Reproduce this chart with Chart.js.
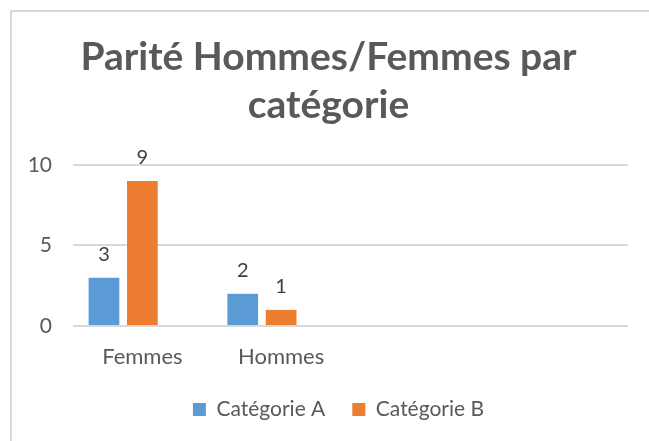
<!DOCTYPE html>
<html>
<head>
<meta charset="utf-8">
<script src="https://cdn.jsdelivr.net/npm/chart.js@4.4.1/dist/chart.umd.min.js"></script>
<style>
  html, body { margin: 0; padding: 0; background: #ffffff; }
  #wrap { position: relative; width: 649px; height: 441px; overflow: hidden; }
  #frame { position: absolute; left: 10px; top: 10px; width: 700px; height: 500px; border-left: 2px solid #d9d9d9; border-top: 2px solid #d9d9d9; box-sizing: border-box; }
  canvas { position: absolute; left: 0; top: 0; }
</style>
</head>
<body>
<div id="wrap">
  <div id="frame"></div>
  <canvas id="c" width="649" height="441"></canvas>
</div>
<script>
const titleLines = ['Parité Hommes/Femmes par', 'catégorie'];
const categories = ['Femmes', 'Hommes', '', ''];
const seriesNames = ['Catégorie A', 'Catégorie B', ''];
const categorieA = [3, 2, null, null];
const categorieB = [9, 1, null, null];
const categorieC = [null, null, null, null];
const yTicks = [0, 5, 10];

const FONT = 'Lato, "Open Sans", sans-serif';
const GREY = '#595959';

const valueLabels = {
  id: 'valueLabels',
  beforeDraw(chart) {
    const lg = chart.legend;
    if (lg && !lg._shifted) { lg.left += 10; lg.right += 10; lg._shifted = true; }
  },
  afterDatasetsDraw(chart) {
    const ctx = chart.ctx;
    ctx.save();
    ctx.font = '20px ' + FONT;
    ctx.fillStyle = '#404040';
    ctx.textAlign = 'center';
    ctx.textBaseline = 'middle';
    chart.data.datasets.forEach((ds, i) => {
      const meta = chart.getDatasetMeta(i);
      meta.data.forEach((bar, j) => {
        const v = ds.data[j];
        if (v === null || v === undefined) return;
        ctx.fillText(String(v), bar.x, bar.y - 23);
      });
    });
    ctx.restore();
  }
};

new Chart(document.getElementById('c'), {
  type: 'bar',
  data: {
    labels: categories,
    datasets: [
      { label: seriesNames[0], data: categorieA, backgroundColor: '#5b9bd5', categoryPercentage: 0.83, barPercentage: 0.8 },
      { label: seriesNames[1], data: categorieB, backgroundColor: '#ed7d31', categoryPercentage: 0.83, barPercentage: 0.8 },
      { label: seriesNames[2], data: categorieC, backgroundColor: '#a5a5a5', categoryPercentage: 0.83, barPercentage: 0.8 }
    ]
  },
  options: {
    responsive: false,
    animation: false,
    layout: { padding: { top: 33, left: 29, right: 21, bottom: 11 } },
    plugins: {
      title: {
        display: true,
        text: titleLines,
        color: GREY,
        font: { family: FONT, size: 39, weight: 'bold', lineHeight: 1.23 },
        padding: { top: 0, bottom: 36 }
      },
      legend: {
        position: 'bottom',
        labels: {
          filter: (item) => item.text !== '',
          color: GREY,
          font: { family: FONT, size: 21 },
          boxWidth: 13,
          boxHeight: 13,
          padding: 27
        }
      },
      tooltip: { enabled: false }
    },
    scales: {
      x: {
        grid: { display: false },
        border: { display: false },
        ticks: { color: GREY, font: { family: FONT, size: 22 }, padding: 10 },
        afterFit: (s) => { s.paddingLeft = 0; s.paddingRight = 0; s.height = s.height - 8.4; }
      },
      y: {
        min: 0,
        max: 10,
        afterBuildTicks: (scale) => { scale.ticks = yTicks.map(v => ({ value: v })); },
        afterFit: (s) => { s.width = 44; },
        grid: { color: '#d9d9d9', lineWidth: 2, drawTicks: false },
        border: { display: false },
        ticks: { color: GREY, font: { family: FONT, size: 21 }, padding: 21 }
      }
    }
  },
  plugins: [valueLabels]
});
</script>
</body>
</html>
